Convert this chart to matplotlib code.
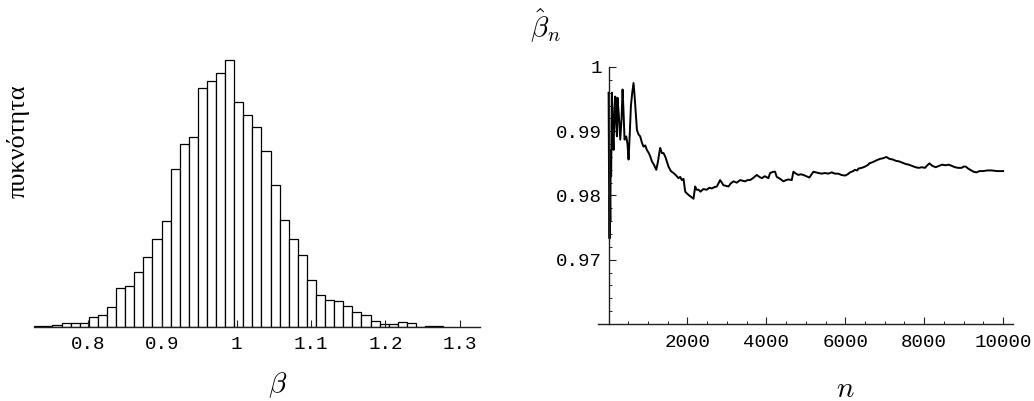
import matplotlib
matplotlib.use("Agg")
import matplotlib.pyplot as plt
from matplotlib.ticker import FixedLocator, MultipleLocator, NullFormatter

# ---------------- data ----------------
# histogram of beta (bin start, bin width, counts per bin)
hist_start = 0.7277
hist_width = 0.012225
hist_counts = [2, 3, 5, 11, 11, 11, 28, 35, 59, 115, 123, 165, 210, 264, 316,
               474, 548, 569, 717, 736, 760, 800, 673, 635, 600, 528, 424, 319,
               263, 216, 141, 95, 81, 76, 61, 44, 35, 16, 9, 9, 15, 12, 0, 2, 2]
hist_ticks = [0.8, 0.9, 1.0, 1.1, 1.2, 1.3]
hist_ticklabels = ["0.8", "0.9", "1", "1.1", "1.2", "1.3"]

# running estimate beta_hat_n
n_vals = [1, 8, 15, 25, 35, 45, 55, 65, 86, 105, 127, 150, 170, 190, 212, 228,
          260, 296, 330, 355, 380, 405, 448, 480, 507, 540, 566, 600, 633, 660,
          701, 719, 760, 802, 846, 886, 930, 971, 1020, 1056, 1099, 1150, 1208,
          1250, 1290, 1309, 1350, 1393, 1440, 1519, 1580, 1646, 1700, 1772,
          1815, 1857, 1900, 1942, 1990, 2026, 2090, 2153, 2195, 2230, 2279,
          2330, 2400, 2491, 2550, 2618, 2680, 2745, 2828, 2870, 2912, 2970,
          3038, 3100, 3165, 3250, 3334, 3400, 3461, 3520, 3588, 3680, 3757,
          3820, 3884, 3960, 4051, 4094, 4178, 4220, 4262, 4347, 4431, 4500,
          4558, 4643, 4685, 4750, 4811, 4870, 4938, 5010, 5090, 5191, 5250,
          5317, 5400, 5486, 5570, 5655, 5740, 5824, 5900, 5993, 6060, 6120,
          6200, 6246, 6300, 6336, 6416, 6500, 6583, 6606, 6700, 6800, 6880,
          6960, 7042, 7120, 7204, 7280, 7368, 7450, 7530, 7610, 7695, 7780,
          7857, 7940, 8019, 8080, 8131, 8210, 8293, 8370, 8457, 8540, 8620,
          8700, 8782, 8860, 8946, 9000, 9055, 9110, 9164, 9250, 9326, 9400,
          9490, 9600, 9708, 9850, 10000]
beta_hat = [0.9960, 0.9880, 0.9790, 0.9733, 0.9800, 0.9760, 0.9870, 0.9830,
            0.9960, 0.9900, 0.9871, 0.9935, 0.9954, 0.9915, 0.9892, 0.9952,
            0.9925, 0.9887, 0.9920, 0.9965, 0.9930, 0.9887, 0.9892, 0.9880,
            0.9856, 0.9900, 0.9939, 0.9960, 0.9975, 0.9955, 0.9918, 0.9902,
            0.9895, 0.9892, 0.9882, 0.9876, 0.9878, 0.9871, 0.9866, 0.9861,
            0.9853, 0.9848, 0.9840, 0.9852, 0.9868, 0.9874, 0.9866, 0.9866,
            0.9860, 0.9845, 0.9838, 0.9835, 0.9832, 0.9827, 0.9829, 0.9824,
            0.9826, 0.9806, 0.9803, 0.9801, 0.9798, 0.9795, 0.9814, 0.9809,
            0.9809, 0.9806, 0.9810, 0.9809, 0.9812, 0.9811, 0.9813, 0.9814,
            0.9824, 0.9820, 0.9816, 0.9815, 0.9814, 0.9819, 0.9822, 0.9820,
            0.9824, 0.9823, 0.9822, 0.9824, 0.9824, 0.9828, 0.9832, 0.9829,
            0.9827, 0.9830, 0.9827, 0.9835, 0.9837, 0.9837, 0.9829, 0.9826,
            0.9822, 0.9824, 0.9825, 0.9824, 0.9837, 0.9834, 0.9832, 0.9833,
            0.9832, 0.9830, 0.9828, 0.9837, 0.9836, 0.9835, 0.9834, 0.9835,
            0.9834, 0.9836, 0.9834, 0.9834, 0.9832, 0.9831, 0.9833, 0.9836,
            0.9838, 0.9840, 0.9839, 0.9842, 0.9843, 0.9845, 0.9848, 0.9850,
            0.9852, 0.9855, 0.9857, 0.9858, 0.9860, 0.9857, 0.9856, 0.9854,
            0.9853, 0.9851, 0.9849, 0.9848, 0.9846, 0.9844, 0.9843, 0.9844,
            0.9843, 0.9847, 0.9850, 0.9846, 0.9844, 0.9846, 0.9848, 0.9847,
            0.9848, 0.9846, 0.9844, 0.9843, 0.9843, 0.9845, 0.9845, 0.9842,
            0.9840, 0.9837, 0.9836, 0.9838, 0.9838, 0.9839, 0.9839, 0.9838,
            0.9838]
line_major_xticks = [2000, 4000, 6000, 8000, 10000]
line_yticks = [0.97, 0.98, 0.99, 1.0]
line_yticklabels = ["0.97", "0.98", "0.99", "1"]

# ---------------- figure ----------------
W, H = 1034, 401
plt.rcParams["mathtext.fontset"] = "cm"
fig = plt.figure(figsize=(W / 100, H / 100), dpi=100)
fig.patch.set_facecolor("white")


def rect(x0, x1, ytop, ybot):
    return [x0 / W, 1 - ybot / H, (x1 - x0) / W, (ybot - ytop) / H]


tick_font = dict(family="Liberation Mono", size=13.8)
AXC = "#222222"

# ---- left: histogram ----
axh = fig.add_axes(rect(34.3, 480, 55, 326.7))
edges = [hist_start + i * hist_width for i in range(len(hist_counts))]
axh.bar(edges, hist_counts, width=hist_width, align="edge",
        facecolor="white", edgecolor="black", linewidth=0.9)
axh.set_xlim(0.7277, 1.3273)
axh.set_ylim(0, 815)
for s in ["left", "right", "top"]:
    axh.spines[s].set_visible(False)
axh.spines["bottom"].set_color(AXC)
axh.spines["bottom"].set_linewidth(1.0)
axh.set_yticks([])
axh.set_xticks(hist_ticks)
axh.set_xticklabels(hist_ticklabels, fontdict=tick_font)
axh.tick_params(axis="x", direction="in", length=5, width=0.8, pad=7, color=AXC)
axh.patch.set_alpha(0)

fig.text(278 / W, 1 - 385 / H, r"$\beta$", fontsize=21, ha="center", va="center")
fig.text(18 / W, 1 - 141 / H, "πυκνότητα", family="Liberation Serif",
         fontsize=19, rotation=90, ha="center", va="center")

# ---- right: running estimate ----
axl = fig.add_axes(rect(598.3, 1013, 67, 324))
axl.plot(n_vals, beta_hat, color="black", linewidth=1.4)
axl.set_xlim(-260, 10250)
axl.set_ylim(0.96, 1.0)
axl.spines["right"].set_visible(False)
axl.spines["top"].set_visible(False)
axl.spines["left"].set_position(("data", 0))
for s in ["left", "bottom"]:
    axl.spines[s].set_color(AXC)
    axl.spines[s].set_linewidth(1.0)
axl.xaxis.set_major_locator(FixedLocator(line_major_xticks))
axl.xaxis.set_minor_locator(MultipleLocator(500))
axl.xaxis.set_minor_formatter(NullFormatter())
axl.set_xticklabels([str(v) for v in line_major_xticks], fontdict=tick_font)
axl.yaxis.set_major_locator(FixedLocator(line_yticks))
axl.yaxis.set_minor_locator(MultipleLocator(0.002))
axl.yaxis.set_minor_formatter(NullFormatter())
axl.set_yticklabels(line_yticklabels, fontdict=tick_font)
axl.tick_params(axis="both", which="major", direction="in", length=5, width=0.8, color=AXC)
axl.tick_params(axis="both", which="minor", direction="in", length=2.5, width=0.7, color=AXC)
axl.tick_params(axis="x", which="major", pad=7)
axl.tick_params(axis="y", which="major", pad=5)
axl.patch.set_alpha(0)

fig.text(546 / W, 1 - 25 / H, r"$\hat{\beta}_n$", fontsize=21, ha="center", va="center")
fig.text(845.5 / W, 1 - 389 / H, r"$n$", fontsize=21, ha="center", va="center")

fig.savefig("out.png", dpi=100, facecolor="white")
